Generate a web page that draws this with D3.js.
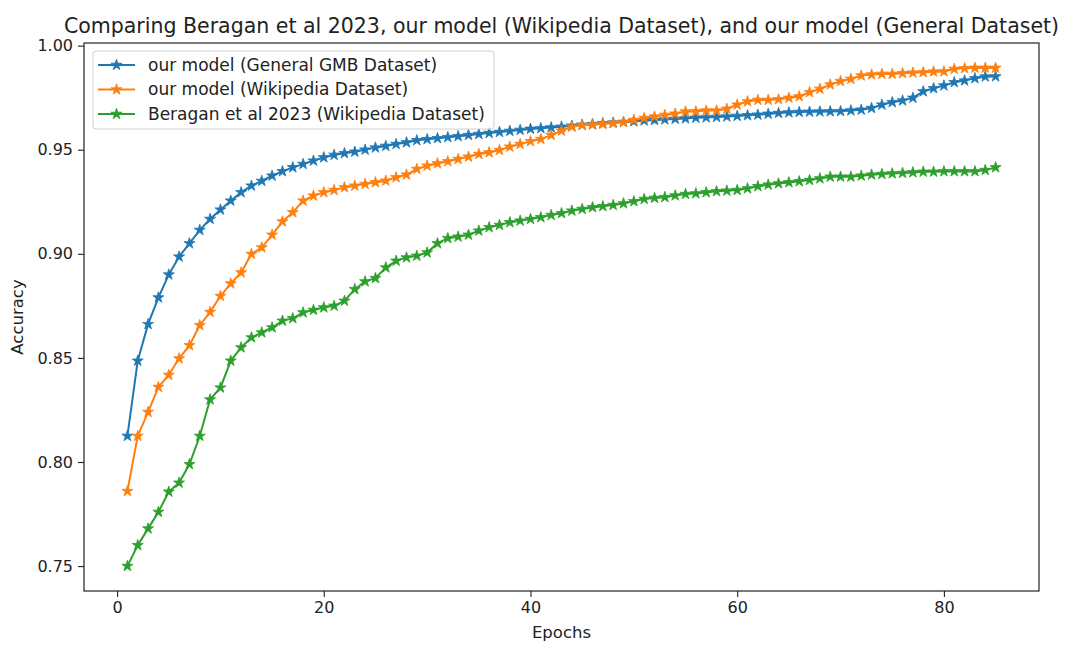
<!DOCTYPE html>
<html>
<head>
<meta charset="utf-8">
<script src="https://cdn.jsdelivr.net/npm/d3@7"></script>
<style>
  body { margin: 0; background: #fff; }
  text { font-family: "DejaVu Sans", sans-serif; fill: #222; }
</style>
</head>
<body>
<div id="body"></div>
<script>
// accuracy per epoch (1..85)
var general = [0.8125, 0.8486, 0.8662, 0.879, 0.890, 0.8986, 0.905, 0.9114, 0.9167, 0.9212,
  0.9255, 0.9295, 0.9327, 0.935, 0.9375, 0.9396, 0.9415, 0.9431, 0.9447, 0.9463,
  0.9475, 0.9483, 0.949, 0.950, 0.951, 0.9518, 0.9527, 0.9535, 0.9545, 0.955,
  0.9555, 0.956, 0.9565, 0.957, 0.9575, 0.958, 0.9585, 0.959, 0.9595, 0.960,
  0.9603, 0.9607, 0.961, 0.9615, 0.962, 0.9623, 0.9627, 0.963, 0.9633, 0.9636,
  0.964, 0.9642, 0.9645, 0.9648, 0.9650, 0.9653, 0.9655, 0.9657, 0.9659, 0.9662,
  0.9665, 0.9668, 0.9672, 0.9676, 0.9679, 0.9681, 0.9682, 0.9683, 0.9684, 0.9685,
  0.9688, 0.9692, 0.970, 0.9716, 0.9728, 0.9736, 0.9749, 0.978, 0.9795, 0.9808,
  0.9824, 0.9832, 0.9843, 0.9851, 0.9852];

var wiki = [0.786, 0.8125, 0.824, 0.836, 0.8418, 0.8497, 0.856, 0.8657, 0.872, 0.8797,
  0.8857, 0.891, 0.8999, 0.903, 0.9091, 0.9155, 0.9199, 0.9255, 0.9279, 0.9295,
  0.9306, 0.9319, 0.9327, 0.9335, 0.9343, 0.9351, 0.9367, 0.938, 0.9407, 0.9423,
  0.9434, 0.9444, 0.9455, 0.9466, 0.9479, 0.9487, 0.9498, 0.9514, 0.9527, 0.954,
  0.9551, 0.957, 0.9591, 0.961, 0.9618, 0.962, 0.9623, 0.9627, 0.9633, 0.9643,
  0.9652, 0.9659, 0.9667, 0.9673, 0.9683, 0.9684, 0.9688, 0.9688, 0.9696, 0.9716,
  0.9732, 0.9739, 0.9739, 0.9742, 0.9749, 0.9756, 0.9776, 0.9792, 0.9813, 0.9829,
  0.984, 0.9856, 0.9861, 0.9864, 0.9864, 0.9867, 0.987, 0.9872, 0.9875, 0.9876,
  0.9888, 0.9891, 0.9893, 0.9893, 0.9893];

var beragan = [0.75, 0.76, 0.768, 0.776, 0.7857, 0.79, 0.7989, 0.8125, 0.830, 0.8357,
  0.8486, 0.855, 0.8598, 0.8622, 0.8646, 0.8678, 0.869, 0.8718, 0.873, 0.8742,
  0.875, 0.8774, 0.883, 0.8867, 0.8883, 0.8934, 0.8966, 0.8982, 0.899, 0.9006,
  0.905, 0.9075, 0.9082, 0.9091, 0.9111, 0.9127, 0.9138, 0.9151, 0.9159, 0.9167,
  0.9175, 0.9186, 0.9195, 0.9207, 0.9215, 0.9223, 0.9228, 0.9234, 0.9242, 0.9252,
  0.9263, 0.9268, 0.9272, 0.928, 0.9287, 0.929, 0.9295, 0.93, 0.9303, 0.9306,
  0.9314, 0.9324, 0.9332, 0.9338, 0.9343, 0.9348, 0.9354, 0.9362, 0.937, 0.937,
  0.937, 0.9375, 0.938, 0.9383, 0.9386, 0.9388, 0.9391, 0.9394, 0.9394, 0.9396,
  0.9396, 0.9396, 0.9396, 0.9402, 0.9415];

var seriesNames = ["our model (General GMB Dataset)", "our model (Wikipedia Dataset)",
  "Beragan et al 2023 (Wikipedia Dataset)"];
var seriesColors = ["#1f77b4", "#ff7f0e", "#2ca02c"];
var xTicks = [0, 20, 40, 60, 80];
var yTicks = [0.75, 0.80, 0.85, 0.90, 0.95, 1.00];

var margin = { top: 43, right: 39, bottom: 63, left: 84 },
    W = 1078, H = 654,
    width = W - margin.left - margin.right,
    height = H - margin.top - margin.bottom;

var series = [general, wiki, beragan].map((vals, k) => ({
  name: seriesNames[k],
  color: seriesColors[k],
  points: vals.map((v, i) => ({ epoch: i + 1, acc: v }))
}));

// matplotlib-like 5% padding
var allX = series[0].points.map(d => d.epoch);
var allY = [].concat(general, wiki, beragan);
var xMin = d3.min(allX), xMax = d3.max(allX), xPad = (xMax - xMin) * 0.05;
var yMin = d3.min(allY), yMax = d3.max(allY), yPad = (yMax - yMin) * 0.05;

var x = d3.scaleLinear().domain([xMin - xPad, xMax + xPad]).range([0, width]);
var y = d3.scaleLinear().domain([yMin - yPad, yMax + yPad]).range([height, 0]);

var svg = d3.select("#body").append("svg")
    .attr("width", W)
    .attr("height", H);

var g = svg.append("g")
    .attr("transform", "translate(" + margin.left + "," + margin.top + ")");

var line = d3.line().x(d => x(d.epoch)).y(d => y(d.acc));
var star = d3.symbol().type(d3.symbolStar).size(38);

series.forEach(s => {
  g.append("path")
      .datum(s.points)
      .attr("fill", "none")
      .attr("stroke", s.color)
      .attr("stroke-width", 2)
      .attr("d", line);

  g.selectAll(null)
      .data(s.points)
      .enter().append("path")
      .attr("d", star)
      .attr("fill", s.color)
      .attr("stroke", s.color)
      .attr("stroke-width", 0.8)
      .attr("transform", d => `translate(${x(d.epoch)},${y(d.acc)})`);
});

// axes
var xAxis = g.append("g")
    .attr("transform", "translate(0," + height + ")")
    .call(d3.axisBottom(x).tickValues(xTicks).tickSize(6).tickPadding(5));
var yAxis = g.append("g")
    .call(d3.axisLeft(y).tickValues(yTicks).tickFormat(d3.format(".2f")).tickSize(6).tickPadding(5));

[xAxis, yAxis].forEach(a => {
  a.select(".domain").remove();
  a.selectAll("line").attr("stroke", "#222").attr("stroke-width", 1.1);
  a.selectAll("text")
      .style("font-family", "'DejaVu Sans', sans-serif")
      .style("font-size", "16px")
      .attr("fill", "#222");
});

g.append("rect")
    .attr("width", width)
    .attr("height", height)
    .attr("fill", "none")
    .attr("stroke", "#222")
    .attr("stroke-width", 1.2);

// labels
svg.append("text")
    .attr("x", margin.left + width / 2)
    .attr("y", 33)
    .attr("text-anchor", "middle")
    .style("font-size", "20.5px")
    .text("Comparing Beragan et al 2023, our model (Wikipedia Dataset), and our model (General Dataset)");

svg.append("text")
    .attr("x", margin.left + width / 2)
    .attr("y", 638)
    .attr("text-anchor", "middle")
    .style("font-size", "16.5px")
    .text("Epochs");

svg.append("text")
    .attr("transform", "translate(23," + (margin.top + height / 2) + ") rotate(-90)")
    .attr("text-anchor", "middle")
    .style("font-size", "16.5px")
    .text("Accuracy");

// legend
var legend = g.append("g").attr("transform", "translate(9,8)");
legend.append("rect")
    .attr("width", 401)
    .attr("height", 78)
    .attr("rx", 3)
    .attr("fill", "#fff")
    .attr("fill-opacity", 0.8)
    .attr("stroke", "#d0d0d0");

var item = legend.selectAll("g.item")
    .data(series)
    .enter().append("g")
    .attr("class", "item")
    .attr("transform", (d, i) => `translate(0,${14 + i * 24.5})`);

item.append("line")
    .attr("x1", 5).attr("x2", 42)
    .attr("stroke", d => d.color)
    .attr("stroke-width", 2);
item.append("path")
    .attr("d", star)
    .attr("fill", d => d.color)
    .attr("stroke", d => d.color)
    .attr("stroke-width", 0.8)
    .attr("transform", "translate(23.5,0)");
item.append("text")
    .attr("x", 55)
    .attr("dy", "0.35em")
    .style("font-size", "17px")
    .text(d => d.name);
</script>
</body>
</html>
